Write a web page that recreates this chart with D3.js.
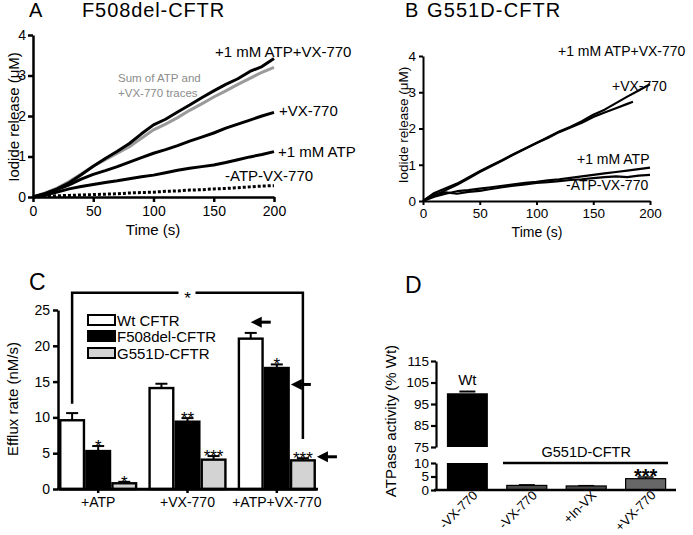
<!DOCTYPE html>
<html><head><meta charset="utf-8">
<script src="https://cdn.jsdelivr.net/npm/d3@7"></script>
<style>body{margin:0;background:#fff}svg{display:block}text{font-family:"Liberation Sans",Arial,sans-serif}</style>
</head><body><svg id="c" width="693" height="535"></svg>
<script>
// ---------- Panel A: F508del-CFTR traces ----------
const timeA = [0,10,20,30,40,50,60,70,80,90,100,110,120,130,140,150,160,170,180,190,200];
const aAtpVx = [0,0.08,0.2,0.35,0.55,0.76,0.95,1.13,1.32,1.56,1.78,1.92,2.1,2.27,2.45,2.62,2.78,2.92,3.1,3.22,3.42];
const aSum   = [0,0.1,0.22,0.38,0.57,0.76,0.92,1.08,1.24,1.45,1.66,1.8,1.96,2.14,2.3,2.47,2.62,2.78,2.93,3.08,3.2];
const aVx    = [0,0.08,0.18,0.3,0.44,0.56,0.65,0.75,0.86,0.97,1.08,1.17,1.27,1.38,1.48,1.58,1.7,1.8,1.9,2.0,2.09];
const aAtp   = [0,0.05,0.12,0.2,0.26,0.31,0.36,0.4,0.45,0.5,0.54,0.6,0.66,0.71,0.75,0.79,0.85,0.92,0.99,1.05,1.12];
const aNone  = [0,0.02,0.03,0.04,0.05,0.06,0.07,0.08,0.1,0.11,0.12,0.14,0.15,0.17,0.18,0.2,0.21,0.23,0.25,0.27,0.28];
const ticksA_x = [0,50,100,150,200];
const ticksA_y = [0,1,2,3,4];

// ---------- Panel B: G551D-CFTR traces ----------
const timeB = [0,10,20,30,40,50,60,70,80,90,100,110,120,130,140,150,160,170,180,190,200];
const bAtpVx = [0,0.22,0.35,0.48,0.65,0.82,0.98,1.13,1.3,1.45,1.6,1.76,1.92,2.05,2.2,2.38,2.52,2.7,2.88,3.05,3.22];
const timeBVx = [0,10,20,30,40,50,60,70,80,90,100,110,120,130,140,150,160,170,180,185];
const bVx    = [0,0.15,0.3,0.45,0.62,0.8,0.96,1.12,1.28,1.44,1.6,1.74,1.9,2.03,2.16,2.32,2.44,2.56,2.68,2.74];
const bAtp   = [0,0.12,0.2,0.27,0.3,0.34,0.38,0.42,0.46,0.5,0.53,0.57,0.6,0.64,0.68,0.72,0.76,0.8,0.84,0.88,0.92];
const bNone  = [0,0.18,0.24,0.2,0.25,0.28,0.33,0.38,0.42,0.46,0.5,0.52,0.55,0.58,0.6,0.63,0.66,0.68,0.66,0.7,0.72];

// ---------- Panel C: efflux rates ----------
const groupsC = ["+ATP","+VX-770","+ATP+VX-770"];
const seriesC = ["Wt CFTR","F508del-CFTR","G551D-CFTR"];
const wtC = [9.6,14.1,21.0],  wtErrC = [1.0,0.6,0.8];
const f508C = [5.3,9.4,16.9], f508ErrC = [0.7,0.5,0.5];
const g551C = [0.8,4.1,4.0],  g551ErrC = [0.2,0.5,0.3];
const starsWt = ["","",""], starsF508 = ["*","**","*"], starsG551 = ["*","***","***"];
const ticksC_y = [0,5,10,15,20,25];

// ---------- Panel D: ATPase activity ----------
const catsD = ["-VX-770","-VX-770","+In-VX","+VX-770"];
const valsD = [100,1.7,1.5,4.2];
const errD  = [0.8,0.2,0.1,0.6];
const ticksD_upper = [75,85,95,105,115];
const ticksD_lower = [0,5,10];

const svg = d3.select("#c");
const FONT = '"Liberation Sans", Arial, sans-serif';
const fmt = d3.format("d");
function styleAxis(g, w, fs){
  g.attr("font-family", FONT);
  g.select(".domain").attr("stroke","#000").attr("stroke-width", w);
  g.selectAll(".tick line").attr("stroke","#000").attr("stroke-width", w);
  g.selectAll(".tick text").attr("font-size", fs).attr("fill","#000");
}
function txt(x,y,s,opt={}){
  const t = svg.append("text").attr("x",x).attr("y",y).text(s)
    .attr("font-size", opt.size||14).attr("fill", opt.fill||"#000")
    .attr("text-anchor", opt.anchor||"start");
  if(opt.family) t.attr("font-family", opt.family);
  if(opt.weight) t.attr("font-weight", opt.weight);
  if(opt.ls) t.attr("letter-spacing", opt.ls);
  if(opt.rot!==undefined) t.attr("transform",`rotate(${opt.rot},${x},${y})`);
  return t;
}
const TITLE = '"Open Sans", "Noto Sans", sans-serif';

// ================= Panel A =================
const xA = d3.scaleLinear([0,200],[33,274]);
const yA = d3.scaleLinear([0,4],[197,35]);
const lineA = d3.line().x(d=>xA(d[0])).y(d=>yA(d[1]));
const zip = (t,v)=>t.map((d,i)=>[d,v[i]]);
svg.append("path").attr("d", lineA(zip(timeA,aSum))).attr("fill","none").attr("stroke","#9a9a9a").attr("stroke-width",3);
[aAtpVx,aVx,aAtp].forEach(s=>{
  svg.append("path").attr("d", lineA(zip(timeA,s))).attr("fill","none").attr("stroke","#000").attr("stroke-width",3).attr("stroke-linejoin","round");
});
svg.append("path").attr("d", lineA(zip(timeA,aNone))).attr("fill","none").attr("stroke","#000").attr("stroke-width",3).attr("stroke-dasharray","3,2");
styleAxis(svg.append("g").attr("transform","translate(0,197)").call(d3.axisBottom(xA).tickValues(ticksA_x).tickFormat(fmt).tickSize(5).tickSizeOuter(0).tickPadding(4)),2.5,14);
styleAxis(svg.append("g").attr("transform","translate(33,0)").call(d3.axisLeft(yA).tickValues(ticksA_y).tickFormat(fmt).tickSize(5).tickSizeOuter(0).tickPadding(2)),2.5,14);
txt(153,235,"Time (s)",{size:15,anchor:"middle"});
txt(19,117,"Iodide release (\u03bcM)",{size:15,anchor:"middle",rot:-90});
txt(29,17,"A",{size:20,family:TITLE});
txt(82,17,"F508del-CFTR",{size:20,family:TITLE,ls:"0.9px"});
txt(215,57,"+1 mM ATP+VX-770",{size:15});
txt(279,116,"+VX-770",{size:15});
txt(278,157,"+1 mM ATP",{size:15});
txt(225,181,"-ATP-VX-770",{size:15});
txt(118,82,"Sum of ATP and",{size:11.5,fill:"#8c8c8c"});
txt(118,97,"+VX-770 traces",{size:11.5,fill:"#8c8c8c"});

// ================= Panel B =================
const xB = d3.scaleLinear([0,200],[423,650]);
const yB = d3.scaleLinear([0,4],[201,56]);
const lineB = d3.line().x(d=>xB(d[0])).y(d=>yB(d[1]));
[[timeB,bAtpVx],[timeBVx,bVx],[timeB,bAtp],[timeB,bNone]].forEach(([t,s])=>{
  svg.append("path").attr("d", lineB(zip(t,s))).attr("fill","none").attr("stroke","#000").attr("stroke-width",2.2).attr("stroke-linejoin","round");
});
styleAxis(svg.append("g").attr("transform","translate(0,201)").call(d3.axisBottom(xB).tickValues(ticksA_x).tickFormat(fmt).tickSize(4).tickSizeOuter(0).tickPadding(3)),2,13.5);
styleAxis(svg.append("g").attr("transform","translate(423,0)").call(d3.axisLeft(yB).tickValues(ticksA_y).tickFormat(fmt).tickSize(4).tickSizeOuter(0).tickPadding(3)),2,13.5);
txt(537,237,"Time (s)",{size:14,anchor:"middle"});
txt(408,125,"Iodide release (\u03bcM)",{size:13.5,anchor:"middle",rot:-90});
txt(405,17,"B",{size:20,family:TITLE});
txt(427,17,"G551D-CFTR",{size:20,family:TITLE,ls:"1.1px"});
txt(558,56,"+1 mM ATP+VX-770",{size:14});
txt(612,91,"+VX-770",{size:14});
txt(577,164,"+1 mM ATP",{size:14});
txt(566,190,"-ATP-VX-770",{size:14});

// ================= Panel C =================
const yC = d3.scaleLinear([0,25],[489,310]);
const xC = d3.scaleBand(groupsC,[58,317]).paddingInner(0.124).paddingOuter(0.012);
const xSub = d3.scaleBand(seriesC,[0,xC.bandwidth()]);
const fillsC = ["#fff","#000","#d3d3d3"];
const dataC = [[wtC,wtErrC,starsWt],[f508C,f508ErrC,starsF508],[g551C,g551ErrC,starsG551]];
dataC.forEach(([vals,errs,stars],si)=>{
  groupsC.forEach((g,gi)=>{
    const x0 = xC(g)+xSub(seriesC[si]);
    const w = xSub.bandwidth();
    const cx = x0+w/2;
    const et = yC(vals[gi]+errs[gi]);
    svg.append("line").attr("x1",cx).attr("x2",cx).attr("y1",yC(vals[gi])).attr("y2",et).attr("stroke","#000").attr("stroke-width",2);
    svg.append("line").attr("x1",cx-6).attr("x2",cx+6).attr("y1",et).attr("y2",et).attr("stroke","#000").attr("stroke-width",2);
    svg.append("rect").attr("x",x0+1.2).attr("y",yC(vals[gi])).attr("width",w-2.4).attr("height",yC(0)-yC(vals[gi]))
      .attr("fill",fillsC[si]).attr("stroke","#000").attr("stroke-width",2.4);
    if(stars[gi]) txt(cx,et+6,stars[gi],{size:17,anchor:"middle"});
  });
});
styleAxis(svg.append("g").attr("transform","translate(0,489)").call(d3.axisBottom(xC).tickSize(4).tickSizeOuter(0).tickPadding(4)),2.5,14);
svg.append("line").attr("x1",57).attr("x2",318).attr("y1",489).attr("y2",489).attr("stroke","#000").attr("stroke-width",2.5);
styleAxis(svg.append("g").attr("transform","translate(58,0)").call(d3.axisLeft(yC).tickValues(ticksC_y).tickFormat(fmt).tickSize(5).tickSizeOuter(0).tickPadding(3)),2.5,14);
txt(18,399,"Efflux rate (nM/s)",{size:15,anchor:"middle",rot:-90});
txt(29,290,"C",{size:23,family:TITLE});
// legend
seriesC.forEach((s,i)=>{
  const yy = [320,336,353][i];
  svg.append("rect").attr("x",88).attr("y",yy-5).attr("width",27).attr("height",10).attr("fill",fillsC[i]).attr("stroke","#000").attr("stroke-width",2);
  txt(117,yy+5.5,s,{size:15});
});
// significance bracket
const bxL = xC(groupsC[0])+xSub(seriesC[0])+xSub.bandwidth()/2;
const bxR = xC(groupsC[2])+xSub(seriesC[2])+xSub.bandwidth()/2;
const bTop = yC(27.4), bMid=(bxL+bxR)/2;
svg.append("path").attr("d",`M${bxL},${yC(11.9)}V${bTop}H${bMid-9}M${bMid+8},${bTop}H${bxR}V${yC(7)}`)
  .attr("fill","none").attr("stroke","#000").attr("stroke-width",2.5);
txt(bMid,bTop+11,"*",{size:17,anchor:"middle"});
// arrows (pointing left)
function arrow(tipX,tipY){
  svg.append("path").attr("d",`M${tipX},${tipY}L${tipX+11},${tipY-5.5}L${tipX+11},${tipY+5.5}Z`).attr("fill","#000");
  svg.append("line").attr("x1",tipX+10).attr("x2",tipX+20).attr("y1",tipY).attr("y2",tipY).attr("stroke","#000").attr("stroke-width",3);
}
arrow(xC(groupsC[2])+xSub(seriesC[0])+xSub.bandwidth()/2, yC(23.3));
arrow(xC(groupsC[2])+xSub(seriesC[1])+xSub.bandwidth()+1, yC(14.6));
arrow(xC(groupsC[2])+xSub(seriesC[2])+xSub.bandwidth()+1, yC(4.5));

// ================= Panel D =================
const yDU = d3.scaleLinear([75,115],[447,361]);
const yDL = d3.scaleLinear([0,10],[490,463]);
const xD = d3.scaleBand(d3.range(catsD.length),[435,678]).paddingInner(0.31).paddingOuter(0.2);
const fillsD = ["#000","#4a4a4a","#4a4a4a","#676767"];
valsD.forEach((v,i)=>{
  const x0=xD(i), w=xD.bandwidth(), cx=x0+w/2;
  if(v>10){
    svg.append("rect").attr("x",x0).attr("y",yDL(10)).attr("width",w).attr("height",yDL(0)-yDL(10)).attr("fill",fillsD[i]);
    svg.append("rect").attr("x",x0).attr("y",yDU(v)).attr("width",w).attr("height",yDU(75)-yDU(v)).attr("fill",fillsD[i]);
    const et=yDU(v+errD[i]);
    svg.append("line").attr("x1",cx-8).attr("x2",cx+8).attr("y1",et).attr("y2",et).attr("stroke","#000").attr("stroke-width",2);
  } else {
    const et=yDL(v+errD[i]);
    svg.append("line").attr("x1",cx).attr("x2",cx).attr("y1",yDL(v)).attr("y2",et).attr("stroke","#000").attr("stroke-width",1.5);
    svg.append("line").attr("x1",cx-8).attr("x2",cx+8).attr("y1",et).attr("y2",et).attr("stroke","#000").attr("stroke-width",1.5);
    svg.append("rect").attr("x",x0+0.5).attr("y",yDL(v)).attr("width",w-1).attr("height",yDL(0)-yDL(v))
      .attr("fill",fillsD[i]).attr("stroke","#000").attr("stroke-width",1.2);
  }
  txt(cx+11,496,catsD[i],{size:13,anchor:"end",rot:-45});
});
svg.append("line").attr("x1",434).attr("x2",676).attr("y1",490).attr("y2",490).attr("stroke","#000").attr("stroke-width",2.5);
const axU = d3.axisLeft(yDU).tickValues(ticksD_upper).tickFormat(fmt).tickSize(5).tickSizeOuter(0).tickPadding(2);
styleAxis(svg.append("g").attr("transform","translate(436,0)").call(axU),2.2,13.5);
const axL = d3.axisLeft(yDL).tickValues(ticksD_lower).tickFormat(fmt).tickSize(5).tickSizeOuter(0).tickPadding(2);
styleAxis(svg.append("g").attr("transform","translate(436,0)").call(axL),2.2,13.5);
txt(396,421,"ATPase activity (% Wt)",{size:15,anchor:"middle",rot:-90});
txt(405,293,"D",{size:23,family:TITLE});
txt(xD(0)+xD.bandwidth()/2,385,"Wt",{size:15,anchor:"middle"});
txt((xD(1)+xD(3)+xD.bandwidth())/2,457,"G551D-CFTR",{size:14.5,anchor:"middle"});
svg.append("line").attr("x1",503).attr("x2",668).attr("y1",463).attr("y2",463).attr("stroke","#000").attr("stroke-width",2.5);
txt(xD(3)+xD.bandwidth()/2,483,"***",{size:20,anchor:"middle",weight:"bold"});
</script></body></html>
